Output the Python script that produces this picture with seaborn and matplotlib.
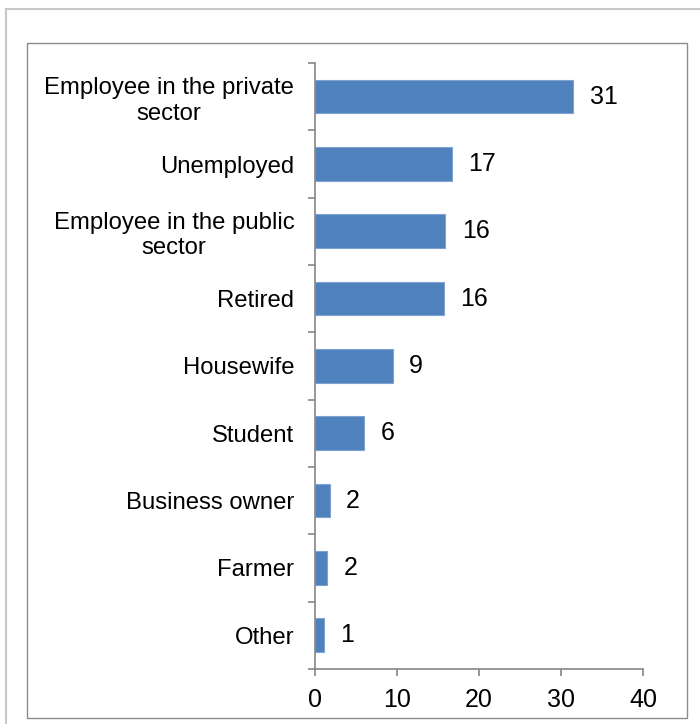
import matplotlib
matplotlib.use("Agg")
import numpy as np
import pandas as pd
import matplotlib.pyplot as plt
import seaborn as sns
from matplotlib.patches import Rectangle

# ── data ───────────────────────────────────────────────────────────────────────
categories = [
    "Employee in the private\nsector",
    "Unemployed",
    "Employee in the public\nsector",
    "Retired",
    "Housewife",
    "Student",
    "Business owner",
    "Farmer",
    "Other",
]
values = [31.5, 16.7, 15.9, 15.7, 9.5, 6.0, 1.8, 1.5, 1.05]
labels = ["31", "17", "16", "16", "9", "6", "2", "2", "1"]
x_ticks = [0, 10, 20, 30, 40]

df = pd.DataFrame({"category": categories, "value": values})

# ── plot ───────────────────────────────────────────────────────────────────────
sns.set_style("white")
plt.rcParams["font.family"] = ["Liberation Sans", "DejaVu Sans"]

fig = plt.figure(figsize=(7.0, 7.24), dpi=100)
ax = fig.add_axes([315 / 700, 1 - 669 / 724, (643 - 315) / 700, (669 - 63) / 724])

sns.barplot(data=df, y="category", x="value", order=categories, color="#4F81BD",
            saturation=1, width=0.5, edgecolor="#7FA3D1", linewidth=0.8, ax=ax)

for i, (v, lab) in enumerate(zip(values, labels)):
    ax.text(v + 2.0, i, lab, va="center", ha="left", fontsize=18, color="black")

ax.set_xlim(0, 40)
ax.set_ylim(8.5, -0.5)
ax.set_xticks(x_ticks)
ax.set_xticklabels([str(t) for t in x_ticks], fontsize=18, color="black")
ax.set_yticks(range(len(categories)))
ax.set_yticklabels(categories, fontsize=17.2, linespacing=1.2, ha="right",
                   multialignment="center", color="black")
ax.set_yticks(np.arange(-0.5, len(categories), 1.0), minor=True)
ax.tick_params(axis="y", which="major", length=0, pad=15)
ax.tick_params(axis="y", which="minor", length=5, color="#868686", width=1.2, direction="out", left=True)
ax.tick_params(axis="x", which="major", length=5, color="#868686", width=1.2, direction="out", bottom=True, pad=9)
ax.set_xlabel("")
ax.set_ylabel("")

for side in ["top", "right"]:
    ax.spines[side].set_visible(False)
for side in ["left", "bottom"]:
    ax.spines[side].set_color("#868686")
    ax.spines[side].set_linewidth(1.2)

# chart frames
fig.patches.append(Rectangle((6 / 700, -0.01), 0.995, 1 - 9 / 724 + 0.01,
                             transform=fig.transFigure, fill=False,
                             edgecolor="#c8c8c8", linewidth=1.5))
fig.patches.append(Rectangle((27 / 700, 1 - 718 / 724), (687 - 27) / 700, (718 - 43) / 724,
                             transform=fig.transFigure, fill=False,
                             edgecolor="#8c8c8c", linewidth=1.0))

fig.savefig("out.png", dpi=100)
